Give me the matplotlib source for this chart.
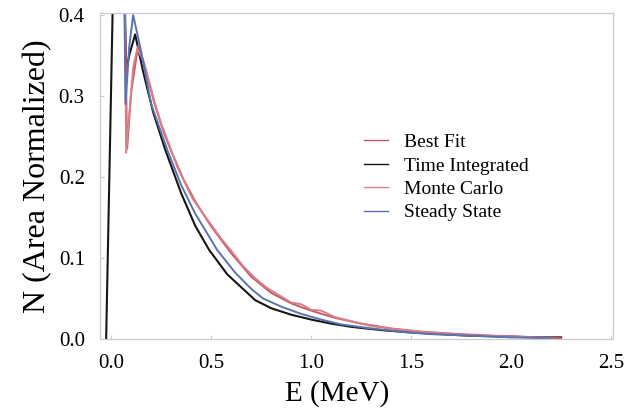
import matplotlib
matplotlib.use("Agg")
import matplotlib.pyplot as plt

# ── Data ──────────────────────────────────────────────────────────────────────
best_fit_e = [0.062, 0.08, 0.10, 0.135, 0.17, 0.215, 0.26, 0.30,
              0.36, 0.42, 0.50, 0.60, 0.70, 0.80, 0.90, 1.00, 1.12, 1.25,
              1.40, 1.55, 1.75, 2.00, 2.25]
best_fit_n = [0.50, 0.235, 0.305, 0.362, 0.335, 0.292, 0.257, 0.232,
              0.198, 0.170, 0.139, 0.106, 0.077, 0.057, 0.044, 0.035, 0.026, 0.019,
              0.013, 0.009, 0.006, 0.003, 0.001]

monte_carlo_e = [0.065, 0.075, 0.09, 0.11, 0.13, 0.16, 0.19, 0.22,
                 0.25, 0.29, 0.33, 0.37, 0.41, 0.45, 0.50, 0.55, 0.60, 0.66,
                 0.72, 0.78, 0.84, 0.90, 0.95, 1.00, 1.05, 1.12, 1.20, 1.30,
                 1.42, 1.55, 1.70, 1.85, 2.00, 2.20]
monte_carlo_n = [0.50, 0.230, 0.275, 0.335, 0.358, 0.345, 0.318, 0.290,
                 0.266, 0.240, 0.213, 0.192, 0.172, 0.158, 0.141, 0.124, 0.109, 0.090,
                 0.075, 0.063, 0.054, 0.045, 0.043, 0.036, 0.035, 0.027, 0.022, 0.016,
                 0.012, 0.009, 0.006, 0.004, 0.003, 0.001]

steady_state_e = [0.062, 0.072, 0.09, 0.11, 0.15, 0.20, 0.28, 0.35,
                  0.42, 0.53, 0.62, 0.70, 0.76, 0.85, 0.95, 1.05, 1.15, 1.30,
                  1.45, 1.60, 1.80, 2.00, 2.20]
steady_state_n = [0.50, 0.290, 0.360, 0.400, 0.355, 0.290, 0.234, 0.190,
                  0.155, 0.110, 0.082, 0.062, 0.050, 0.040, 0.031, 0.024, 0.018, 0.013,
                  0.009, 0.006, 0.004, 0.002, 0.001]

time_int_e = [-0.025, 0.015, 0.062, 0.075, 0.09, 0.12, 0.16, 0.21, 0.27, 0.35,
              0.42, 0.49, 0.58, 0.65, 0.72, 0.80, 0.90, 1.00, 1.10, 1.20,
              1.35, 1.50, 1.65, 1.80, 2.00, 2.15, 2.25]
time_int_n = [0.0, 0.50, 0.50, 0.330, 0.350, 0.376, 0.330, 0.280, 0.234, 0.180,
              0.140, 0.110, 0.080, 0.064, 0.048, 0.038, 0.030, 0.024, 0.019, 0.015,
              0.011, 0.008, 0.006, 0.004, 0.003, 0.002, 0.002]

x_ticks = [0.0, 0.5, 1.0, 1.5, 2.0, 2.5]
y_ticks = [0.0, 0.1, 0.2, 0.3, 0.4]

# ── Colours ──────────────────────────────────────────────────────────────────
RED = "#c25a64"
PINK = "#d9808c"
BLUE = "#5873b0"
BLACK = "#161616"
FRAME = "#c8ccd6"

plt.rcParams["font.family"] = ["Liberation Serif", "DejaVu Serif"]

fig = plt.figure(figsize=(6.42, 4.18), dpi=100, facecolor="white")
ax = fig.add_axes([0.156, 0.189, 0.799, 0.780])

# black first: its spike is on its own, the descent hides under the blue one
ax.plot(time_int_e, time_int_n, color=BLACK, lw=1.5, label="Time Integrated", zorder=2.0)
ax.plot(best_fit_e, best_fit_n, color=RED, lw=1.4, label="Best Fit", zorder=2.1)
ax.plot(monte_carlo_e, monte_carlo_n, color=PINK, lw=1.4, label="Monte Carlo", zorder=2.2)
ax.plot(steady_state_e, steady_state_n, color=BLUE, lw=1.4, label="Steady State", zorder=2.3)

ax.set_xlim(-0.055, 2.51)
ax.set_ylim(0.0, 0.4025)
ax.set_xticks(x_ticks)
ax.set_yticks(y_ticks)
ax.set_xticklabels([f"{v:.1f}" for v in x_ticks])
ax.set_yticklabels([f"{v:.1f}" for v in y_ticks])
ax.tick_params(direction="in", length=3, color=FRAME, labelsize=15)
ax.tick_params(axis="x", pad=11)
ax.tick_params(axis="y", pad=11)

for sp in ax.spines.values():
    sp.set_color(FRAME)
    sp.set_linewidth(0.9)

ax.set_xlabel("E (MeV)", fontsize=21, labelpad=0)
ax.xaxis.set_label_coords(0.462, -0.125)
ax.set_ylabel("N (Area Normalized)", fontsize=23, labelpad=5)

# legend order as in the reference
h, l = ax.get_legend_handles_labels()
order = ["Best Fit", "Time Integrated", "Monte Carlo", "Steady State"]
handles = [h[l.index(name)] for name in order]
leg = ax.legend(handles, order, loc="upper left", bbox_to_anchor=(0.495, 0.66),
                frameon=False, fontsize=14, borderpad=0, labelspacing=0.3,
                handlelength=1.25, handletextpad=0.8)
for line in leg.get_lines():
    line.set_linewidth(1.0)

fig.savefig("out.png", dpi=100, facecolor="white")
